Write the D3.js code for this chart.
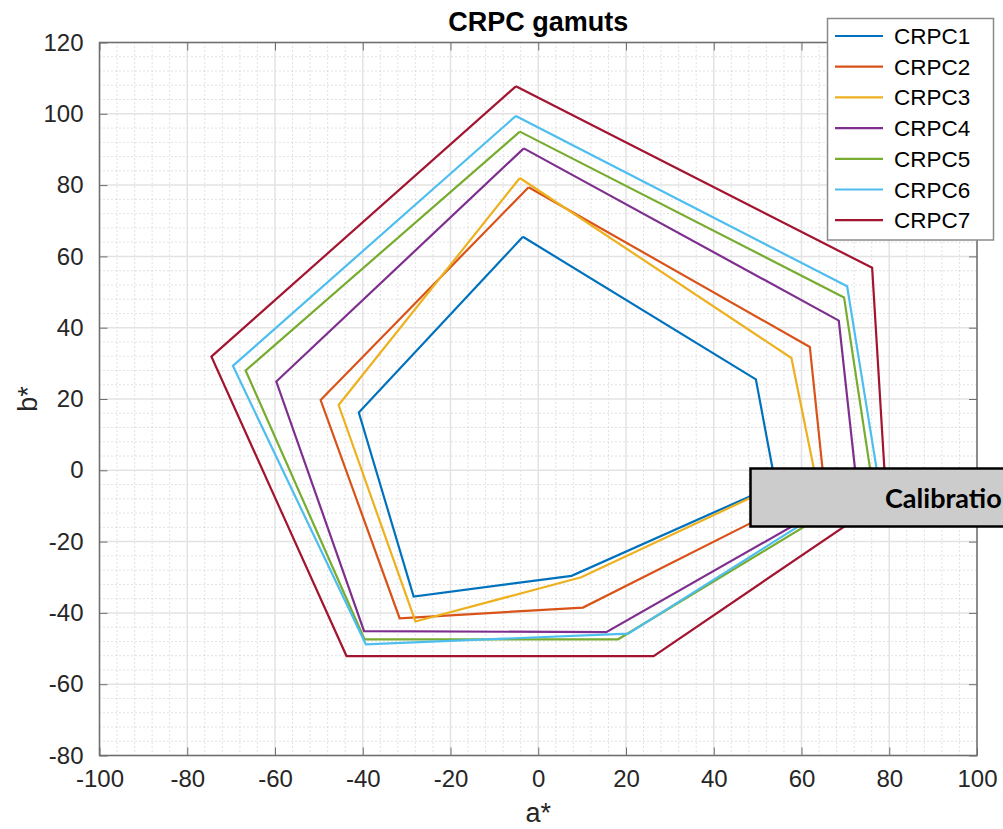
<!DOCTYPE html>
<html>
<head>
<meta charset="utf-8">
<title>CRPC gamuts</title>
<script src="https://cdn.jsdelivr.net/npm/d3@7/dist/d3.min.js"></script>
<style>
  body { margin: 0; background: #fff; }
  svg { display: block; font-family: "Liberation Sans", Arial, sans-serif; }
</style>
</head>
<body>
<div id="vis"></div>
<script>
// series names, in legend order
var seriesNames = ["CRPC1", "CRPC2", "CRPC3", "CRPC4", "CRPC5", "CRPC6", "CRPC7"];
var seriesColors = ["#0072BD", "#D95319", "#EDB120", "#7E2F8E", "#77AC30", "#4DBEEE", "#A2142F"];

// gamut corners: Y, R, M, B, C, G
var crpc1A = [-3.5, 49.6, 54.1, 7.6, -28.4, -40.9];
var crpc1B = [65.5, 25.5, -4.1, -29.6, -35.4, 16.2];
var crpc2A = [-2.2, 61.9, 65.2, 10.2, -31.6, -49.6];
var crpc2B = [79.4, 34.6, -4.4, -38.5, -41.5, 19.7];
var crpc3A = [-4.2, 57.7, 62.8, 9.8, -28.0, -45.5];
var crpc3B = [82.0, 31.5, 0.6, -30.0, -42.4, 18.3];
var crpc4A = [-3.3, 68.5, 72.7, 15.5, -39.7, -59.7];
var crpc4B = [90.3, 42.0, -5.3, -45.4, -45.1, 24.9];
var crpc5A = [-4.2, 69.7, 76.2, 18.2, -39.6, -66.7];
var crpc5B = [95.0, 48.5, -4.2, -47.4, -47.4, 28.0];
var crpc6A = [-5.1, 70.4, 77.4, 20.5, -39.3, -69.6];
var crpc6B = [99.4, 51.6, -1.7, -45.8, -48.8, 29.3];
var crpc7A = [-5.1, 76.1, 79.3, 26.3, -43.7, -74.5];
var crpc7B = [107.7, 56.8, -7.8, -52.1, -52.1, 31.9];

// axis ticks
var xTicks = [-100, -80, -60, -40, -20, 0, 20, 40, 60, 80, 100];
var yTicks = [-80, -60, -40, -20, 0, 20, 40, 60, 80, 100, 120];

(function() {
  var width = 1003, height = 829;
  var left = 99.5, right = 977, top = 42.5, bottom = 755.5;

  var aValues = [crpc1A, crpc2A, crpc3A, crpc4A, crpc5A, crpc6A, crpc7A];
  var bValues = [crpc1B, crpc2B, crpc3B, crpc4B, crpc5B, crpc6B, crpc7B];

  // build one closed ring per series
  var series = seriesNames.map(function(name, i) {
    var pts = aValues[i].map(function(a, j) { return [a, bValues[i][j]]; });
    pts.push(pts[0]);
    return { name: name, color: seriesColors[i], points: pts };
  });

  var x = d3.scaleLinear().domain([-100, 100]).range([left, right]);
  var y = d3.scaleLinear().domain([-80, 120]).range([bottom, top]);

  // plain hyphen for negatives, like the original
  var fmt = function(d) { return String(d); };

  var svg = d3.select("#vis")
    .append("svg")
    .attr("width", width)
    .attr("height", height);

  // minor grid, dotted, every 4 units
  var minorX = d3.range(-100, 100.1, 4).filter(function(v) { return v % 20 !== 0; });
  var minorY = d3.range(-80, 120.1, 4).filter(function(v) { return v % 20 !== 0; });

  var grid = svg.append("g").attr("class", "grid");

  grid.selectAll("line.minx").data(minorX).enter().append("line")
    .attr("x1", function(d) { return x(d); }).attr("x2", function(d) { return x(d); })
    .attr("y1", top).attr("y2", bottom)
    .attr("stroke", "#c4c4c4").attr("stroke-width", 1).attr("stroke-dasharray", "1,3");
  grid.selectAll("line.miny").data(minorY).enter().append("line")
    .attr("y1", function(d) { return y(d); }).attr("y2", function(d) { return y(d); })
    .attr("x1", left).attr("x2", right)
    .attr("stroke", "#c4c4c4").attr("stroke-width", 1).attr("stroke-dasharray", "1,3");

  // major grid
  grid.selectAll("line.majx").data(xTicks).enter().append("line")
    .attr("x1", function(d) { return x(d); }).attr("x2", function(d) { return x(d); })
    .attr("y1", top).attr("y2", bottom)
    .attr("stroke", "#e3e3e3").attr("stroke-width", 1.5);
  grid.selectAll("line.majy").data(yTicks).enter().append("line")
    .attr("y1", function(d) { return y(d); }).attr("y2", function(d) { return y(d); })
    .attr("x1", left).attr("x2", right)
    .attr("stroke", "#e3e3e3").attr("stroke-width", 1.5);

  // gamut outlines
  var line = d3.line()
    .x(function(d) { return x(d[0]); })
    .y(function(d) { return y(d[1]); });

  svg.append("g").attr("class", "gamuts")
    .selectAll("path").data(series).enter().append("path")
    .attr("d", function(d) { return line(d.points); })
    .attr("fill", "none")
    .attr("stroke", function(d) { return d.color; })
    .attr("stroke-width", 2.2)
    .attr("stroke-linejoin", "miter");

  // axes, ticks pointing inward on all four sides (box on)
  var tickLen = 8;
  var axisColor = "#6e6e6e";

  svg.append("g")
    .attr("transform", "translate(0," + bottom + ")")
    .call(d3.axisBottom(x).tickValues(xTicks).tickFormat(fmt)
      .tickSizeInner(-tickLen).tickSizeOuter(0).tickPadding(14))
    .call(function(g) {
      g.select(".domain").remove();
      g.selectAll(".tick line").attr("stroke", axisColor);
      g.selectAll(".tick text").attr("font-size", 24).attr("fill", "#262626")
        .attr("font-family", "Liberation Sans, Arial, sans-serif");
    });

  svg.append("g")
    .attr("transform", "translate(" + left + ",0)")
    .call(d3.axisLeft(y).tickValues(yTicks).tickFormat(fmt)
      .tickSizeInner(-tickLen).tickSizeOuter(0).tickPadding(16))
    .call(function(g) {
      g.select(".domain").remove();
      g.selectAll(".tick line").attr("stroke", axisColor);
      g.selectAll(".tick text").attr("font-size", 24).attr("fill", "#262626")
        .attr("font-family", "Liberation Sans, Arial, sans-serif");
    });

  svg.append("g")
    .attr("transform", "translate(0," + top + ")")
    .call(d3.axisTop(x).tickValues(xTicks).tickSizeInner(-tickLen).tickSizeOuter(0).tickFormat(""))
    .call(function(g) {
      g.select(".domain").remove();
      g.selectAll(".tick line").attr("stroke", axisColor);
    });

  svg.append("g")
    .attr("transform", "translate(" + right + ",0)")
    .call(d3.axisRight(y).tickValues(yTicks).tickSizeInner(-tickLen).tickSizeOuter(0).tickFormat(""))
    .call(function(g) {
      g.select(".domain").remove();
      g.selectAll(".tick line").attr("stroke", axisColor);
    });

  // axes box
  svg.append("rect")
    .attr("x", left).attr("y", top)
    .attr("width", right - left).attr("height", bottom - top)
    .attr("fill", "none").attr("stroke", axisColor).attr("stroke-width", 1.5);

  // labels
  svg.append("text")
    .attr("x", (left + right) / 2).attr("y", 31)
    .attr("text-anchor", "middle").attr("font-size", 27).attr("font-weight", "bold")
    .attr("fill", "#000")
    .text("CRPC gamuts");

  svg.append("text")
    .attr("x", (left + right) / 2).attr("y", 822)
    .attr("text-anchor", "middle").attr("font-size", 27).attr("fill", "#262626")
    .text("a*");

  svg.append("text")
    .attr("transform", "translate(37," + 399 + ") rotate(-90)")
    .attr("text-anchor", "middle").attr("font-size", 27).attr("fill", "#262626")
    .text("b*");

  // legend
  var legend = svg.append("g").attr("class", "legend");
  legend.append("rect")
    .attr("x", 827.5).attr("y", 18.5).attr("width", 166).attr("height", 221.5)
    .attr("fill", "#fff").attr("stroke", "#8a8a8a").attr("stroke-width", 1.5);

  var rows = legend.selectAll("g.row").data(series).enter().append("g")
    .attr("transform", function(d, i) { return "translate(0," + (36 + i * 30.7) + ")"; });
  rows.append("line")
    .attr("x1", 835).attr("x2", 883).attr("y1", 0).attr("y2", 0)
    .attr("stroke", function(d) { return d.color; }).attr("stroke-width", 2.2);
  rows.append("text")
    .attr("x", 894).attr("y", 8)
    .attr("font-size", 22.5).attr("fill", "#000")
    .text(function(d) { return d.name; });

  // callout box over the lower right, cut by the page edge as in the original
  svg.append("rect")
    .attr("x", 750.5).attr("y", 468.5).attr("width", 300).attr("height", 58)
    .attr("fill", "#cccccc").attr("stroke", "#000").attr("stroke-width", 2.5);
  svg.append("text")
    .attr("x", 885).attr("y", 508)
    .attr("font-family", "Lato, 'Open Sans', sans-serif")
    .attr("font-size", 27).attr("font-weight", "bold").attr("fill", "#000")
    .text("Calibration");
}());
</script>
</body>
</html>
